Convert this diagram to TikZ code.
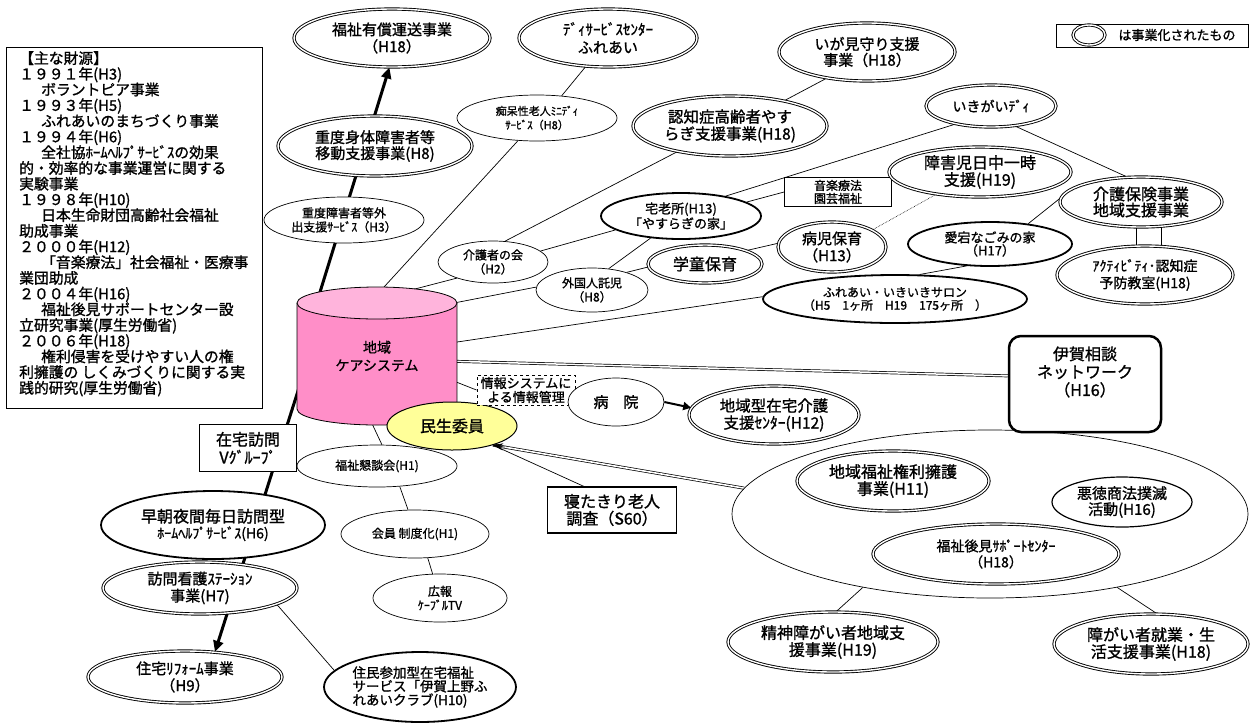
\documentclass[tikz,border=0pt]{standalone}
\usepackage{fontspec}
\setmainfont{Noto Sans CJK JP}[FakeBold=1.2]
\usetikzlibrary{shapes.geometric,arrows.meta,calc}
\pgfdeclarelayer{bg}
\pgfsetlayers{bg,main}
\definecolor{pinktop}{RGB}{255,180,220}
\definecolor{pinkbody}{RGB}{255,142,200}
\definecolor{ylw}{RGB}{255,255,153}
\newcommand\fz[2]{\fontsize{#1pt}{#2pt}\selectfont}
\begin{document}
\begin{tikzpicture}[x=1pt,y=-1pt,
 base/.style={ellipse,inner sep=0pt,align=center,fill=white},
 sz/.style 2 args={minimum width=#1pt,minimum height=#2pt},
 dbl/.style={base,draw,double,line width=0.9pt,double distance=1.4pt},
 thk/.style={base,draw,line width=1.8pt},
 med/.style={base,draw,line width=1.2pt},
 thn/.style={base,draw,line width=0.7pt},
 rbox/.style={rectangle,draw,line width=1pt,fill=white,inner sep=0pt,align=center},
 conn/.style={line width=0.7pt},
 bigarrow/.style={line width=3pt,-{Triangle[length=11pt,width=10pt]}},
]
\useasboundingbox (0,0) rectangle (1253,724);
\begin{pgfonlayer}{bg}
\fill[white] (0,0) rectangle (1253,724);
\end{pgfonlayer}

% legend
\node[rectangle,draw,line width=1pt,minimum width=192pt,minimum height=23pt,inner sep=0pt] (legend) at (1152,35.5) {};
\node[dbl,sz={32}{20}] (legell) at (1089,35) {};
\node[inner sep=0pt,font={\fz{13}{14}}] (legtxt) at (1177,35) {は事業化されたもの};

% sources box
\node[rectangle,draw,line width=1pt,minimum width=256pt,minimum height=361pt,anchor=north west,inner sep=0pt] (srcbox) at (6,47) {};
\node[anchor=north west,align=left,inner sep=0pt,font={\fz{14.8}{15.7}}] (srctext) at (19,51) {【主な財源】\\
１９９１年(H3)\\
\hspace*{22pt}ボラントピア事業\\
１９９３年(H5)\\
\hspace*{22pt}ふれあいのまちづくり事業\\
１９９４年(H6)\\
\hspace*{22pt}全社協ﾎｰﾑﾍﾙﾌﾟｻｰﾋﾞｽの効果\\
的・効率的な事業運営に関する\\
実験事業\\
１９９８年(H10)\\
\hspace*{22pt}日本生命財団高齢社会福祉\\
助成事業\\
２０００年(H12)\\
\hspace*{22pt}「音楽療法」社会福祉・医療事\\
業団助成\\
２００４年(H16)\\
\hspace*{22pt}福祉後見サポートセンター設\\
立研究事業(厚生労働省)\\
２００６年(H18)\\
\hspace*{22pt}権利侵害を受けやすい人の権\\
利擁護の しくみづくりに関する実\\
践的研究(厚生労働省)};

% top nodes
\node[dbl,sz={196}{58},font={\fz{15}{17}}] (yusho) at (392,38) {福祉有償運送事業\\（H18）};
\node[dbl,sz={178}{58},font={\fz{15}{18}}] (day) at (608,38) {ﾃﾞｨｻｰﾋﾞｽｾﾝﾀｰ\\ふれあい};
\node[dbl,sz={176}{58},font={\fz{15}{16}}] (igami) at (867,52) {いが見守り支援\\事業（H18）};
\node[thn,sz={160}{46},font={\fz{11}{14}}] (chiho) at (537,118) {痴呆性老人ﾐﾆﾃﾞｨ\\ｻｰﾋﾞｽ（H8）};
\node[dbl,sz={194}{60},font={\fz{15.5}{17}}] (ninchi) at (730,126) {認知症高齢者やす\\らぎ支援事業(H18)};
\node[dbl,sz={194}{60},font={\fz{15}{16}}] (shintai) at (375,146) {重度身体障害者等\\移動支援事業(H8)};
\node[thn,sz={160}{46},font={\fz{12}{14}}] (judogai) at (344,220) {重度障害者等外\\出支援ｻｰﾋﾞｽ（H3）};
\node[dbl,sz={130}{42},font={\fz{14}{16}}] (ikigai) at (991,106) {いきがいﾃﾞｨ};
\node[rbox,line width=0.8pt,minimum width=107pt,minimum height=29pt,font={\fz{12}{13}}] (ongaku) at (838,192) {音楽療法\\園芸福祉};
\node[thk,sz={160}{46},font={\fz{13}{15}}] (takurou) at (681,216) {宅老所(H13)\\「やすらぎの家」};
\node[dbl,sz={182}{50},font={\fz{16}{17}}] (shogaiji) at (980,172) {障害児日中一時\\支援(H19)};
\node[dbl,sz={162}{50},font={\fz{16}{16}}] (kaigohoken) at (1141,202) {介護保険事業\\地域支援事業};
\node[thk,sz={164}{44},font={\fz{13}{13}}] (atago) at (990,244) {愛宕なごみの家\\（H17）};
\node[dbl,sz={176}{58},font={\fz{14}{17}}] (activity) at (1145,275) {ｱｸﾃｨﾋﾞﾃｨ･認知症\\予防教室(H18)};
\node[thn,sz={110}{42},font={\fz{12}{14}}] (kaigosha) at (493,262) {介護者の会\\（H2）};
\node[thn,sz={112}{44},font={\fz{12}{14}}] (gaikoku) at (592,290) {外国人託児\\（H8）};
\node[dbl,sz={114}{38},font={\fz{16}{17}}] (gakudo) at (705,264) {学童保育};
\node[dbl,sz={108}{50},font={\fz{15}{17}}] (byoji) at (832,247) {病児保育\\（H13）};
\node[thk,sz={264}{48},font={\fz{12}{13}}] (salon) at (895,299) {ふれあい・いきいきサロン\\（H5　1ヶ所　H19　175ヶ所　）};

% cylinder
\fill[pinkbody] (297,303) rectangle (457,409);
\fill[pinkbody] (377,409) ellipse[x radius=80,y radius=16];
\draw[line width=0.8pt] (297,303) -- (297,409) arc[start angle=180,end angle=0,x radius=80,y radius=16] -- (457,303);
\draw[line width=0.8pt,fill=pinktop] (377,303) ellipse[x radius=80,y radius=16];
\node[inner sep=0pt,minimum width=150pt,minimum height=120pt,align=center,font={\fz{14}{18}}] (cyl) at (377,356) {地域\\ケアシステム};

\node[base,draw,line width=1pt,fill=ylw,sz={130}{48},font={\fz{16}{17}}] (minsei) at (452,426) {民生委員};
\node[rbox,dashed,line width=1pt,minimum width=98pt,minimum height=30pt,font={\fz{13}{14}}] (joho) at (526,390) {情報システムに\\よる情報管理};
\node[thn,sz={96}{48},font={\fz{15}{16}}] (byoin) at (616,402) {病　院};
\node[dbl,sz={170}{58},font={\fz{15.5}{17}}] (chiikigata) at (774,415) {地域型在宅介護\\支援ｾﾝﾀｰ(H12)};

% right group
\node[ellipse,draw,line width=0.7pt,sz={516}{168}] (bigell) at (990,514) {};
\node[rbox,line width=2.5pt,rounded corners=12pt,minimum width=152pt,minimum height=96pt] (iga) at (1085,384) {};
\node[inner sep=0pt,align=center,font={\fz{16}{18}}] (igatext) at (1085,372) {伊賀相談\\ネットワーク\\（H16）};
\node[dbl,sz={192}{60},font={\fz{16}{17}}] (kenri) at (893,481) {地域福祉権利擁護\\事業(H11)};
\node[med,sz={140}{50},font={\fz{15}{16}}] (akutoku) at (1122,502) {悪徳商法撲滅\\活動(H16)};
\node[dbl,sz={246}{60},font={\fz{14}{16}}] (koken) at (996,554) {福祉後見ｻﾎﾟｰﾄｾﾝﾀｰ\\（H18）};
\node[dbl,sz={210}{60},font={\fz{16}{17}}] (seishin) at (833,642) {精神障がい者地域支\\援事業(H19)};
\node[dbl,sz={194}{60},font={\fz{16}{17}}] (shugyo) at (1151,644) {障がい者就業・生\\活支援事業(H18)};
\node[rbox,line width=1.2pt,minimum width=129pt,minimum height=46pt,font={\fz{16}{17}}] (netakiri) at (612,510) {寝たきり老人\\調査（S60）};

% lower left
\node[rbox,line width=1.2pt,minimum width=97pt,minimum height=47pt,font={\fz{16}{18}}] (zaitaku) at (248,448) {在宅訪問\\Vｸﾞﾙｰﾌﾟ};
\node[thn,sz={160}{42},font={\fz{12}{13}}] (kondan) at (377,466) {福祉懇談会(H1)};
\node[thn,sz={148}{48},font={\fz{12}{13}}] (kaiin) at (415,534) {会員 制度化(H1)};
\node[thn,sz={134}{48},font={\fz{12}{14}}] (koho) at (440,598) {広報\\ｹｰﾌﾞﾙTV};
\node[thk,sz={192}{70},font={\fz{13.5}{12.5}},align=left] (jumin) at (420,687) {住民参加型在宅福祉\\サービス「伊賀上野ふ\\れあいクラブ(H10)};
\node[thk,sz={224}{68},font={\fz{16}{16}}] (socho) at (213,525) {早朝夜間毎日訪問型\\{\fz{14}{16}ﾎｰﾑﾍﾙﾌﾟｻｰﾋﾞｽ(H6)}};
\node[dbl,sz={194}{52},font={\fz{15}{17}}] (homon) at (200,588) {訪問看護ｽﾃｰｼｮﾝ\\事業(H7)};
\node[dbl,sz={194}{52},font={\fz{15}{17}}] (reform) at (185,677) {住宅ﾘﾌｫｰﾑ事業\\（H9）};

% connectors
\begin{pgfonlayer}{bg}
\draw[bigarrow] (cyl.134) -- (yusho.265);
\draw[bigarrow] (cyl.197) -- (reform.40);
\draw[conn] (chiho.42) -- (day.232);
\draw[conn] (cyl.91) -- (chiho.230);
\draw[conn] (cyl.79) -- (kaigosha.204);
\draw[conn] (kaigosha.60) -- (ninchi.206);
\draw[conn] (kaigosha.13) -- (takurou.192);
\draw[conn] (cyl.35) -- (gaikoku.177);
\draw[conn] (gaikoku.52) -- (takurou.216);
\draw[conn] (gaikoku.27) -- (gakudo.183);
\draw[conn] (gakudo.18) -- (byoji.176);
\draw[densely dotted,line width=0.6pt] (byoji.23) -- (shogaiji.207);
\draw[conn] (cyl.10) -- (salon.179);
\draw[conn] (salon.45) -- (atago.223);
\draw[conn] (atago.28) -- (kaigohoken.177);
\draw[conn] (ikigai.320) -- (kaigohoken.119);
\draw[conn] (ikigai.207) -- (takurou.24);
\draw[conn] (takurou.12) -- (ongaku.west);
\draw[conn] (ninchi.25) -- (igami.213);
\draw[conn] (cyl.262) -- (kondan.77);
\draw[conn] (kondan.318) -- (kaiin.106);
\draw[conn] (kaiin.298) -- (koho.107);
\draw[conn] (homon.348) -- (jumin.169);
\draw[conn] (cyl.342) -- (joho.west);
\draw[double,double distance=1.5pt,line width=0.7pt] (cyl.356) -- (iga.174);
\draw[conn] (bigell.210) -- (seishin.84);
\draw[conn] (bigell.330) -- (shugyo.79);
\draw[double,double distance=1.6pt,line width=0.7pt] (bigell.174) -- (minsei.335);
\draw[conn] (netakiri.140) -- (minsei.335);
\node[rectangle,draw,line width=0.8pt,minimum width=25pt,minimum height=30pt] (link) at (1148.5,236) {};
\end{pgfonlayer}
\draw[line width=0.7pt,-{Stealth[length=10pt,width=7pt]}] ($(minsei.335)!12pt!(bigell.174)$) -- (minsei.335);
\draw[line width=2pt,-{Triangle[length=8pt,width=8pt]}] (byoin.0) -- (chiikigata.175);
\end{tikzpicture}
\end{document}
